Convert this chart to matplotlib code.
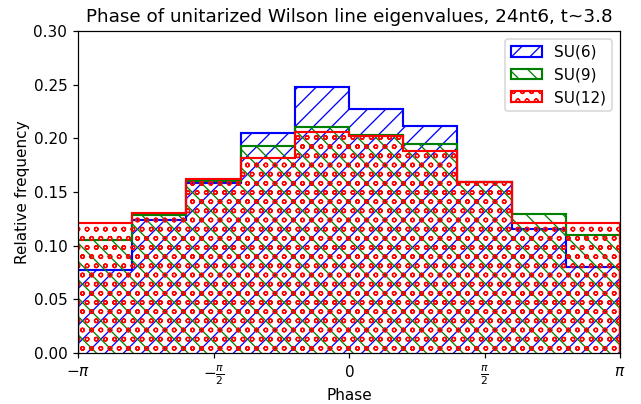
import numpy as np
import matplotlib
matplotlib.use("Agg")
import matplotlib.pyplot as plt

# bin edges: 10 bins from -pi to pi
n_bins = 10
su6 = [0.0773, 0.124, 0.158, 0.2053, 0.248, 0.227, 0.2115, 0.1596, 0.1152, 0.0804]
su9 = [0.105, 0.1286, 0.160, 0.193, 0.211, 0.2035, 0.195, 0.1590, 0.1295, 0.110]
su12 = [0.1214, 0.130, 0.162, 0.182, 0.2056, 0.202, 0.1885, 0.1596, 0.1215, 0.1208]
labels = ["SU(6)", "SU(9)", "SU(12)"]
colors = ["blue", "green", "red"]
hatches = ["//", "\\\\", "oo"]

DPI = 110
W, H = 641, 404
plt.rcParams["hatch.linewidth"] = 0.85

edges = np.linspace(-np.pi, np.pi, n_bins + 1)
centers = 0.5 * (edges[:-1] + edges[1:])

fig = plt.figure(figsize=(W / DPI, H / DPI), dpi=DPI)
ax = fig.add_axes([78/W, 1 - 353/H, (620-78)/W, (353-31)/H])

for vals, lab, col, h in zip([su6, su9, su12], labels, colors, hatches):
    ax.hist(centers, bins=edges, weights=vals, histtype="step", fill=False,
            edgecolor=col, hatch=h, linewidth=1.4, label=lab)

ax.set_xlim(-np.pi, np.pi)
ax.set_ylim(0, 0.30)
ax.set_xticks([-np.pi, -np.pi/2, 0, np.pi/2, np.pi])
ax.set_xticklabels([r"$-\pi$", r"$-\frac{\pi}{2}$", r"$0$", r"$\frac{\pi}{2}$", r"$\pi$"])
ax.set_yticks(np.arange(0, 0.301, 0.05))
ax.set_yticklabels([f"{v:.2f}" for v in np.arange(0, 0.301, 0.05)])
ax.set_xlabel("Phase", labelpad=0.5)
ax.set_ylabel("Relative frequency", labelpad=2)
ax.set_title("Phase of unitarized Wilson line eigenvalues, 24nt6, t~3.8", fontsize=12)
ax.legend(loc="upper right")

fig.savefig("out.png", dpi=DPI)
